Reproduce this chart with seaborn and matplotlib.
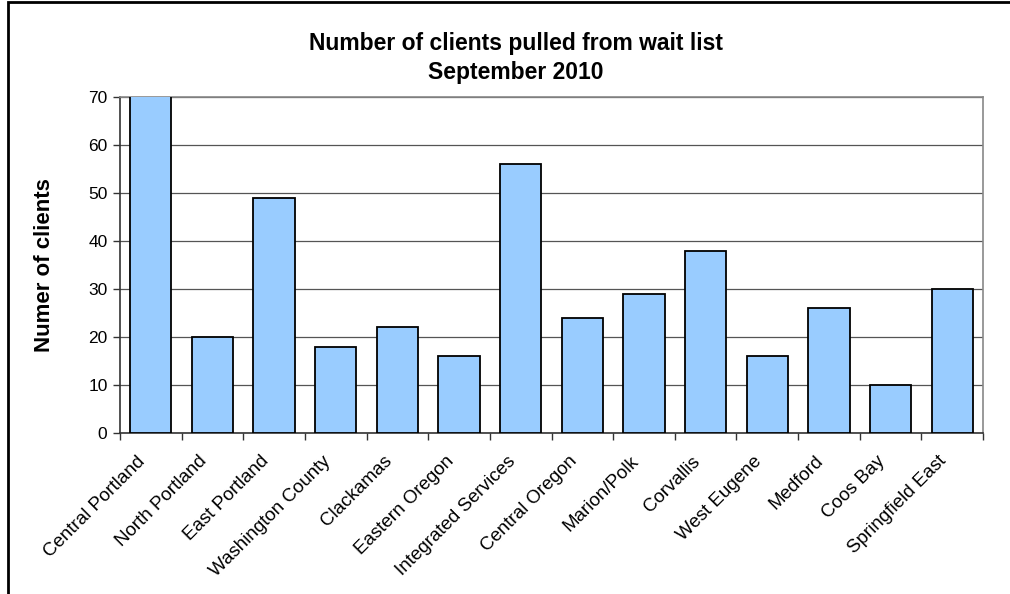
import numpy as np, pandas as pd
import seaborn as sns, matplotlib.pyplot as plt
from matplotlib.patches import Rectangle
from matplotlib.ticker import FixedLocator
from matplotlib.transforms import ScaledTranslation

offices = ["Central Portland", "North Portland", "East Portland", "Washington County",
           "Clackamas", "Eastern Oregon", "Integrated Services", "Central Oregon",
           "Marion/Polk", "Corvallis", "West Eugene", "Medford", "Coos Bay",
           "Springfield East"]
clients = [77, 20, 49, 18, 22, 16, 56, 24, 29, 38, 16, 26, 10, 30]
y_ticks = [0, 10, 20, 30, 40, 50, 60, 70]

df = pd.DataFrame({"office": offices, "clients": clients})

sns.set_style("white")
plt.rcParams['font.family'] = ['Liberation Sans', 'DejaVu Sans']
plt.rcParams['text.color'] = 'black'
plt.rcParams['axes.labelcolor'] = 'black'
plt.rcParams['xtick.color'] = 'black'
plt.rcParams['ytick.color'] = 'black'

fig = plt.figure(figsize=(10.10, 5.94), dpi=100)
ax = fig.add_axes([120/1010, 1-433/594, 863/1010, 336/594])

sns.barplot(data=df, x="office", y="clients", color="#99ccff", saturation=1,
            width=0.67, edgecolor="black", linewidth=1.3, ax=ax, zorder=3)

ax.set_ylim(0, 70)
ax.set_xlim(-0.5, len(offices) - 0.5)
ax.set_yticks(y_ticks)
ax.yaxis.grid(True, color="#555555", linewidth=0.9, zorder=0)
ax.set_axisbelow(True)

for s in ["top", "right"]:
    ax.spines[s].set_color("#888888")
    ax.spines[s].set_linewidth(1.2)
for s in ["left", "bottom"]:
    ax.spines[s].set_color("#333333")
    ax.spines[s].set_linewidth(1.2)

ax.tick_params(axis="y", left=True, length=5, width=1, color="#333333",
               labelsize=12.5, pad=4, labelcolor="black")
ax.tick_params(axis="x", which="major", bottom=False, length=0, labelsize=13.5,
               pad=12, labelcolor="black")
ax.xaxis.set_minor_locator(FixedLocator(np.arange(-0.5, len(offices), 1.0)))
ax.tick_params(axis="x", which="minor", bottom=True, length=5, width=1, color="#333333")

shift = ScaledTranslation(-14/100, -3/100, fig.dpi_scale_trans)
for lab in ax.get_xticklabels():
    lab.set_rotation(45)
    lab.set_ha("right")
    lab.set_va("top")
    lab.set_rotation_mode("anchor")
    lab.set_transform(lab.get_transform() + shift)

ax.set_xlabel("")
ax.set_ylabel("Numer of clients", fontsize=16, fontweight="bold", labelpad=24)
fig.text(516/1010, 1-58/594, "Number of clients pulled from wait list\nSeptember 2010",
         ha="center", va="center", fontsize=16.5, fontweight="bold", linespacing=1.3)

fig.patches.append(Rectangle((8/1010, -0.1), 1.2, 1.1 - 2/594, transform=fig.transFigure,
                             fill=False, edgecolor="black", linewidth=2, figure=fig))

fig.savefig("out.png", dpi=100)
